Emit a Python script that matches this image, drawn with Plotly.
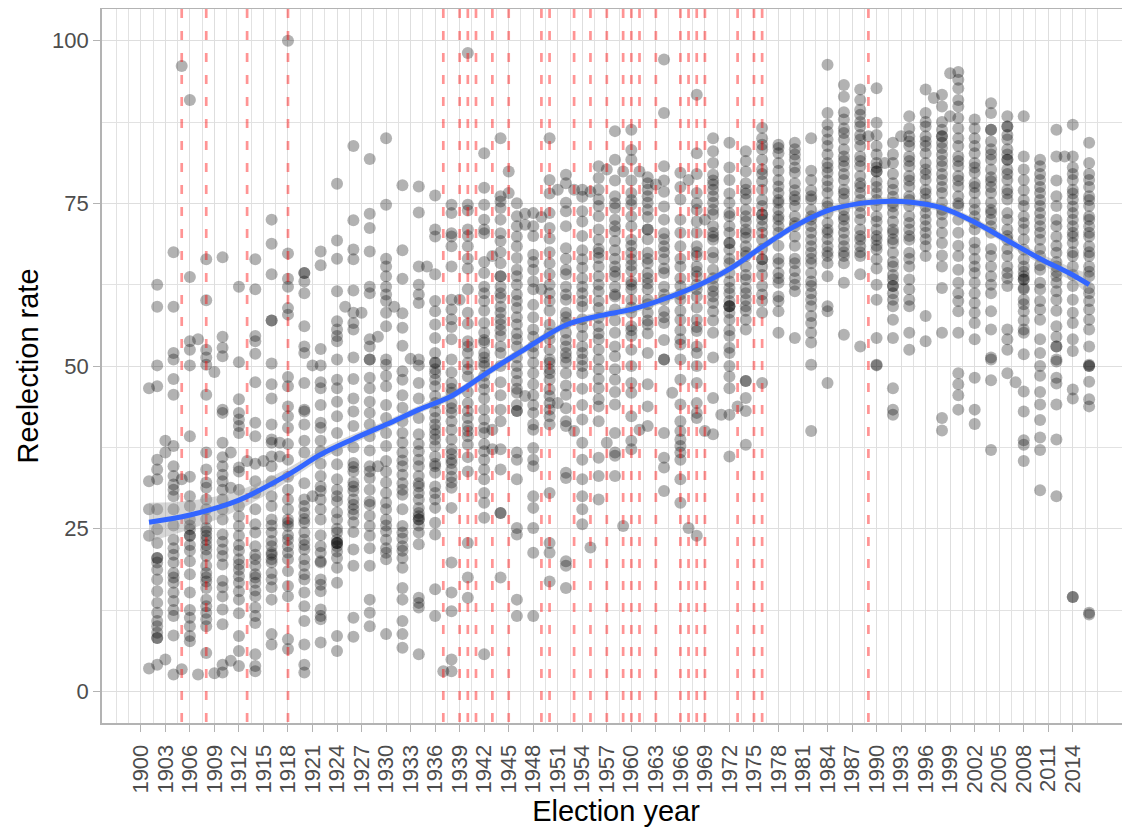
import plotly.graph_objects as go
import numpy as np

# election years and the reelection rates seen in each year's column
col_years = [1901, 1902, 1903, 1904, 1905, 1906, 1907, 1908, 1909, 1910, 1911, 1912, 1913, 1914,
             1915, 1916, 1917, 1918, 1920, 1921, 1922, 1924, 1925, 1926, 1927, 1928, 1929, 1930,
             1931, 1932, 1933, 1934, 1935, 1936, 1937, 1938, 1939, 1940, 1942, 1943, 1944, 1945,
             1946, 1947, 1948, 1949, 1950, 1951, 1952, 1953, 1954, 1955, 1956, 1957, 1958, 1959,
             1960, 1961, 1962, 1963, 1964, 1965, 1966, 1967, 1968, 1969, 1970, 1971, 1972, 1973,
             1974, 1976, 1978, 1980, 1982, 1984, 1986, 1988, 1989, 1990, 1991, 1992, 1993, 1994,
             1996, 1997, 1998, 1999, 2000, 2002, 2004, 2006, 2007, 2008, 2010, 2012, 2013, 2014,
             2016]

col_rates = [
    [46.6, 32.3, 28.0, 23.9, 3.5],
    [62.5, 59.1, 50.1, 46.9, 35.6, 34.1, 32.6, 28.0, 24.9, 22.8, 20.5, 20.5, 19.8, 18.7, 17.2,
     15.4, 13.6, 12.1, 10.8, 10.0, 9.0, 8.2, 8.2, 4.1],
    [38.5, 36.7, 4.9],
    [67.5, 59.1, 52.0, 51.0, 48.0, 45.6, 37.7, 34.6, 33.1, 31.8, 31.0, 30.0, 23.3, 21.0, 19.8,
     18.2, 16.7, 15.2, 13.9, 11.6, 8.6, 2.6, 28.0, 25.5, 22.0, 17.5, 12.5],
    [96.1, 32.6, 3.4],
    [90.9, 63.7, 53.8, 52.5, 50.1, 39.2, 30.0, 28.5, 26.4, 24.9, 23.9, 23.9, 21.6, 20.0, 15.2,
     11.3, 10.0, 8.5, 7.7, 33.0, 25.5, 22.5, 18.0, 12.5],
    [54.1, 2.6],
    [66.4, 60.1, 52.5, 51.3, 50.2, 45.6, 36.7, 34.1, 32.1, 31.3, 28.0, 25.1, 24.6, 23.9, 23.3,
     21.8, 20.8, 19.3, 18.2, 16.9, 15.9, 14.1, 13.1, 12.1, 11.1, 10.0, 5.9, 29.5, 26.5, 22.5,
     17.5],
    [49.1, 2.8],
    [66.7, 54.5, 52.8, 51.5, 43.3, 42.8, 38.2, 34.6, 33.3, 32.3, 31.0, 29.5, 26.4, 24.1, 21.8,
     20.8, 19.5, 14.6, 12.6, 10.3, 4.1, 2.9, 36.0, 28.0, 23.0, 17.0, 16.0],
    [36.7, 31.3, 4.7],
    [62.2, 50.6, 44.9, 42.8, 41.8, 40.8, 39.7, 34.4, 33.8, 26.9, 25.4, 23.9, 21.6, 20.3, 18.7,
     17.7, 16.7, 15.4, 14.1, 8.5, 6.2, 3.9, 31.0, 28.5, 22.5, 19.5, 12.0],
    [35.4],
    [66.4, 61.8, 54.6, 53.8, 51.9, 47.5, 41.3, 39.2, 32.3, 30.5, 25.7, 24.4, 22.3, 20.3, 19.3,
     18.0, 16.7, 14.6, 12.9, 11.6, 10.5, 5.7, 3.9, 3.1, 35.0, 28.0, 21.0, 17.5, 15.5],
    [35.4],
    [72.5, 68.8, 64.1, 57.0, 57.0, 50.4, 47.2, 38.7, 38.2, 36.1, 34.6, 32.3, 28.5, 26.4, 24.4,
     23.1, 22.3, 21.3, 20.3, 19.8, 18.2, 17.2, 14.1, 8.8, 7.2, 45.0, 41.0, 30.0, 25.5, 21.0,
     16.0],
    [38.2, 36.1],
    [100.0, 67.3, 63.4, 62.2, 58.9, 57.9, 48.3, 46.9, 43.8, 42.3, 40.5, 35.6, 31.0, 29.5, 26.4,
     25.9, 25.4, 23.3, 22.3, 21.3, 20.3, 16.2, 14.6, 8.0, 6.5, 38.0, 33.0, 28.0, 24.0, 18.5],
    [64.3, 64.3, 63.0, 61.2, 56.1, 53.0, 52.0, 47.4, 43.3, 43.0, 36.7, 29.5, 28.5, 27.4, 25.9,
     24.4, 23.3, 21.8, 20.3, 19.3, 18.0, 17.2, 15.2, 13.1, 10.8, 7.2, 4.1, 2.9, 41.0, 38.5,
     32.0, 26.5, 22.5],
    [50.1, 30.0],
    [67.6, 65.5, 52.6, 50.1, 47.5, 46.6, 41.3, 40.5, 36.9, 33.1, 31.5, 30.8, 28.0, 26.4, 22.3,
     21.3, 19.8, 17.2, 16.4, 15.4, 12.6, 11.6, 11.1, 7.5, 44.0, 38.5, 35.0, 29.5, 24.0, 20.0],
    [78.0, 69.3, 66.5, 61.5, 56.9, 55.6, 54.6, 53.8, 51.0, 47.9, 46.6, 42.3, 39.7, 34.9, 32.6,
     30.0, 29.2, 26.4, 24.4, 23.3, 22.8, 22.8, 22.8, 22.3, 20.5, 19.0, 16.7, 8.5, 6.2, 44.5,
     37.0, 31.0, 27.5, 25.0, 21.5],
    [59.1],
    [83.8, 72.4, 67.9, 66.4, 61.6, 58.2, 56.6, 55.6, 51.3, 48.0, 40.8, 35.1, 33.8, 32.1, 30.8,
     29.5, 28.7, 28.0, 27.2, 21.8, 19.3, 11.3, 8.4, 45.0, 43.0, 37.5, 34.5, 31.5, 26.0, 24.5],
    [58.2],
    [81.8, 73.4, 71.2, 67.6, 62.2, 61.2, 54.1, 53.0, 51.0, 51.0, 48.2, 46.6, 42.8, 39.2, 34.6,
     33.8, 32.8, 29.2, 28.7, 25.4, 23.9, 19.3, 14.1, 12.1, 10.0, 44.5, 41.0, 37.0, 31.0, 27.0,
     22.0],
    [54.5, 34.6],
    [85.0, 74.8, 66.5, 65.3, 63.8, 62.2, 61.0, 60.0, 58.2, 56.1, 51.0, 50.2, 46.9, 39.7, 37.7,
     35.4, 33.8, 32.1, 28.0, 26.4, 24.6, 23.3, 21.3, 20.3, 8.8, 48.5, 44.0, 42.0, 30.5, 29.0,
     25.5, 22.0],
    [59.1],
    [77.8, 67.8, 63.4, 58.1, 55.9, 53.1, 49.2, 47.9, 43.6, 39.7, 38.2, 36.7, 34.6, 33.3, 31.0,
     30.2, 25.4, 24.4, 22.3, 21.6, 19.0, 15.9, 14.1, 10.8, 8.8, 6.7, 45.5, 41.5, 35.5, 32.0,
     28.0, 23.5, 20.5],
    [51.1],
    [77.6, 73.6, 65.3, 62.5, 61.0, 59.7, 51.0, 50.1, 47.4, 36.9, 35.6, 34.6, 33.1, 31.5, 29.5,
     28.2, 27.4, 26.9, 26.4, 26.4, 24.4, 22.6, 14.4, 13.6, 12.9, 5.7, 45.0, 42.0, 39.5, 38.0,
     32.0, 30.5, 25.5],
    [65.3],
    [76.2, 71.0, 69.9, 64.1, 60.0, 58.4, 56.4, 54.3, 50.5, 50.5, 48.9, 47.9, 46.9, 45.4, 44.3,
     42.0, 40.2, 38.7, 37.7, 36.1, 34.6, 33.6, 30.5, 29.5, 28.2, 25.9, 24.1, 15.7, 11.6, 52.0,
     49.5, 43.0, 41.0, 39.5, 35.0, 31.5],
    [3.1],
    [74.8, 73.5, 70.4, 69.9, 68.4, 65.3, 60.2, 58.7, 57.2, 54.1, 51.0, 47.4, 45.9, 44.3, 42.8,
     40.2, 38.7, 37.2, 35.6, 35.1, 34.1, 32.1, 31.3, 28.2, 19.8, 15.2, 12.3, 4.9, 3.1, 56.0,
     49.0, 46.5, 43.5, 41.5, 36.5, 33.0],
    [60.2],
    [98.1, 74.8, 73.9, 71.0, 68.4, 65.0, 61.8, 58.2, 53.8, 53.0, 52.0, 49.5, 48.4, 44.3, 43.1,
     40.8, 40.0, 39.2, 37.9, 33.8, 22.8, 17.5, 14.4, 70.0, 66.5, 56.5, 50.5, 46.0, 42.0, 36.0],
    [82.7, 77.4, 74.8, 71.0, 70.4, 64.3, 62.2, 61.2, 60.0, 56.6, 55.1, 53.6, 52.0, 51.3, 50.5,
     50.0, 47.4, 46.4, 43.3, 41.8, 39.7, 36.9, 35.6, 34.1, 32.6, 30.5, 29.0, 26.7, 5.7, 72.5,
     66.0, 58.5, 54.0, 48.5, 45.0, 40.5, 38.0],
    [66.9, 40.2, 37.2],
    [85.0, 76.1, 75.3, 74.3, 70.4, 69.2, 65.8, 63.8, 63.8, 62.2, 61.2, 59.1, 58.2, 57.2, 56.4,
     54.6, 52.0, 43.3, 41.5, 37.2, 34.1, 27.4, 27.4, 17.5, 72.5, 67.5, 60.5, 55.5, 53.0, 50.0,
     47.5, 45.5],
    [79.9, 76.6],
    [75.0, 69.9, 68.4, 66.6, 64.8, 63.8, 61.0, 58.9, 56.4, 54.1, 53.0, 51.3, 48.9, 47.7, 45.9,
     43.1, 43.1, 36.7, 35.6, 32.6, 25.1, 24.1, 14.1, 11.6, 73.0, 71.5, 62.5, 60.0, 57.5, 55.0,
     50.0, 46.5, 44.0],
    [73.4, 71.7, 45.4],
    [73.5, 71.5, 67.1, 64.8, 61.8, 59.4, 55.6, 53.0, 52.0, 48.9, 47.2, 42.8, 41.0, 40.2, 37.4,
     35.6, 34.6, 30.0, 28.2, 25.1, 21.3, 11.6, 70.0, 66.0, 63.0, 57.5, 54.5, 50.5, 45.5, 44.0],
    [72.9, 61.8],
    [85.0, 78.6, 73.5, 71.2, 69.6, 65.8, 64.1, 61.2, 60.0, 56.4, 54.1, 51.0, 50.5, 48.9, 47.9,
     46.4, 45.4, 44.3, 43.3, 42.3, 41.0, 30.5, 22.8, 21.3, 16.9, 76.5, 67.5, 62.5, 58.5, 55.0,
     52.5, 49.5],
    [77.1, 44.3],
    [79.4, 78.1, 75.1, 73.8, 68.1, 64.8, 64.1, 62.2, 60.2, 58.2, 56.6, 55.1, 53.0, 51.3, 50.5,
     48.9, 45.6, 41.5, 40.8, 33.6, 32.8, 20.0, 19.3, 15.9, 71.5, 66.5, 61.0, 57.5, 54.0, 52.0,
     47.0, 43.5],
    [77.1, 40.0],
    [77.1, 73.8, 72.2, 67.8, 66.4, 65.1, 62.2, 61.2, 59.1, 57.2, 54.6, 53.0, 51.0, 48.9, 41.8,
     38.2, 35.6, 32.6, 30.0, 28.0, 25.7, 76.0, 70.0, 63.5, 60.0, 56.0, 52.0, 50.0, 46.5, 44.0],
    [76.8, 22.1],
    [80.7, 78.9, 77.1, 75.6, 74.6, 73.0, 69.4, 67.4, 66.6, 65.3, 63.8, 61.5, 58.9, 57.4, 56.1,
     54.1, 51.0, 49.5, 46.6, 44.9, 43.8, 41.5, 35.9, 33.1, 29.5, 71.0, 68.0, 62.5, 60.0, 55.0,
     52.5, 48.0],
    [80.2, 38.2],
    [86.1, 81.7, 76.1, 74.3, 72.5, 70.7, 69.2, 67.8, 65.3, 63.8, 62.2, 60.7, 58.7, 55.1, 53.0,
     49.5, 47.9, 44.1, 39.7, 36.7, 36.2, 33.1, 78.5, 75.0, 71.5, 66.5, 64.5, 61.0, 57.0, 51.5,
     46.0],
    [79.9, 25.4],
    [86.3, 83.2, 81.7, 76.6, 74.8, 73.0, 69.4, 67.4, 66.4, 64.6, 63.0, 61.8, 60.2, 58.2, 56.1,
     54.6, 52.5, 47.4, 45.9, 42.3, 38.5, 37.2, 78.5, 75.5, 71.5, 68.5, 65.5, 62.5, 59.0, 55.5,
     50.0],
    [79.9, 40.2],
    [79.0, 78.1, 77.1, 76.1, 75.1, 72.9, 71.0, 71.0, 67.4, 65.8, 64.3, 62.7, 61.8, 60.2, 58.2,
     56.4, 47.2, 43.8, 40.8, 74.0, 69.5, 66.5, 63.5, 59.5, 57.0, 55.0, 52.0],
    [77.9],
    [97.1, 88.9, 80.7, 76.8, 72.5, 70.4, 68.4, 66.4, 64.3, 62.2, 60.2, 58.4, 56.6, 51.0, 51.0,
     39.7, 35.9, 34.4, 30.8, 78.5, 74.5, 69.5, 67.5, 65.0, 61.0, 57.5, 54.0],
    [45.9],
    [79.7, 75.6, 70.5, 68.4, 65.3, 62.3, 60.2, 57.1, 54.1, 53.3, 47.9, 44.1, 41.5, 40.0, 38.7,
     37.7, 36.7, 35.6, 32.6, 29.0, 77.5, 72.5, 66.5, 63.5, 61.0, 58.5, 55.5, 51.0],
    [78.6, 25.1],
    [91.7, 82.7, 76.6, 74.0, 72.2, 68.4, 66.9, 65.3, 63.8, 61.8, 60.7, 57.1, 55.4, 53.0, 52.0,
     50.0, 47.4, 44.3, 42.8, 42.0, 23.9, 79.5, 75.0, 70.5, 67.5, 64.5, 62.5, 59.0, 56.0],
    [72.5, 40.0],
    [85.0, 81.2, 79.4, 77.9, 77.1, 76.1, 75.1, 73.3, 71.5, 69.9, 69.4, 66.6, 64.8, 62.3, 60.7,
     59.7, 58.4, 55.1, 51.3, 45.1, 39.5, 83.0, 78.5, 74.0, 70.5, 67.5, 63.5, 61.5, 57.0],
    [42.5],
    [84.3, 78.6, 75.1, 73.5, 73.0, 70.5, 68.9, 68.9, 67.9, 65.8, 64.3, 63.0, 61.2, 59.2, 59.2,
     59.2, 58.2, 57.1, 54.6, 52.8, 52.0, 50.0, 48.4, 46.6, 42.5, 36.1, 80.5, 76.5, 71.5, 66.5,
     62.0, 60.0, 55.5],
    [43.8],
    [83.0, 79.9, 78.1, 77.1, 75.6, 74.0, 72.2, 70.5, 69.7, 68.4, 66.9, 65.3, 63.3, 61.2, 60.2,
     59.2, 57.1, 55.6, 47.7, 47.7, 45.1, 43.1, 37.9, 81.5, 76.5, 73.0, 71.0, 67.5, 64.0, 62.0,
     58.5],
    [86.6, 85.0, 83.3, 81.7, 80.2, 78.4, 77.1, 74.6, 73.3, 73.3, 71.5, 69.4, 66.4, 66.4, 65.3,
     62.3, 60.0, 58.2, 47.4, 84.0, 79.5, 75.5, 72.5, 70.5, 68.0, 64.0, 61.0],
    [84.0, 82.7, 81.2, 78.6, 77.6, 76.6, 75.1, 74.0, 72.5, 70.5, 65.8, 64.3, 62.8, 60.7, 60.0,
     58.4, 55.1, 83.5, 80.0, 75.5, 73.0, 71.5, 68.5, 66.5, 63.5],
    [84.3, 83.3, 81.7, 79.7, 78.1, 76.1, 74.6, 73.0, 71.5, 69.9, 65.8, 64.6, 63.5, 61.5, 54.3,
     82.5, 80.5, 77.0, 75.5, 72.0, 68.5, 66.5, 62.5],
    [85.0, 78.6, 76.1, 75.6, 74.0, 73.0, 71.5, 69.4, 68.4, 67.4, 65.8, 64.3, 62.3, 61.2, 60.2,
     59.2, 57.7, 56.6, 55.1, 53.6, 50.2, 40.0, 80.0, 77.0, 72.5, 70.5, 66.5, 63.0],
    [96.3, 88.9, 87.1, 84.8, 83.8, 81.2, 79.7, 77.6, 76.6, 75.1, 73.5, 72.0, 70.5, 68.4, 66.9,
     65.8, 63.8, 59.2, 58.4, 47.4, 86.0, 82.5, 80.5, 78.5, 74.5, 71.0, 69.5, 67.5],
    [93.2, 91.4, 87.9, 85.8, 84.8, 83.3, 82.2, 80.7, 78.6, 77.1, 75.6, 74.0, 72.5, 70.5, 69.4,
     68.4, 66.9, 65.8, 62.8, 54.8, 89.0, 86.5, 81.5, 79.5, 76.5, 73.0, 71.5, 67.5],
    [92.5, 90.9, 89.4, 88.6, 86.8, 84.8, 83.8, 82.2, 80.7, 79.2, 78.1, 76.6, 74.6, 72.5, 71.0,
     69.4, 68.4, 66.9, 64.1, 53.0, 87.5, 85.5, 81.5, 77.5, 75.5, 73.5, 70.0, 67.5],
    [85.3],
    [92.7, 87.4, 83.8, 81.2, 79.9, 79.9, 78.4, 76.6, 74.6, 73.0, 72.2, 71.0, 69.4, 67.9, 66.4,
     62.5, 60.2, 54.3, 50.2, 50.1, 85.5, 82.5, 80.5, 77.5, 75.5, 70.0, 68.5, 65.0],
    [81.2],
    [84.3, 81.2, 78.1, 77.1, 75.1, 73.5, 72.2, 70.5, 68.9, 67.4, 65.3, 63.3, 62.3, 62.3, 61.2,
     60.2, 59.2, 57.1, 54.3, 46.6, 43.3, 42.5, 82.5, 79.5, 76.0, 74.5, 71.0, 69.5, 66.0, 64.0],
    [85.3],
    [88.4, 85.3, 83.8, 82.2, 80.7, 79.2, 77.6, 76.1, 74.6, 73.0, 71.0, 69.4, 67.4, 65.3, 63.3,
     61.8, 60.2, 59.2, 55.1, 52.5, 86.5, 84.5, 81.5, 78.5, 75.5, 72.0, 70.0, 66.5],
    [92.5, 88.9, 86.8, 85.3, 83.8, 82.7, 81.2, 80.2, 78.6, 77.1, 75.6, 73.5, 71.5, 70.5, 68.4,
     66.9, 57.7, 53.8, 87.5, 84.5, 79.5, 76.5, 74.5, 72.5, 69.5],
    [91.2],
    [91.7, 89.9, 86.3, 85.3, 85.3, 84.3, 82.5, 80.7, 78.6, 76.6, 75.1, 73.3, 70.5, 68.9, 65.3,
     62.0, 55.1, 42.0, 40.1, 87.5, 83.5, 81.5, 79.5, 77.5, 74.0, 72.0, 67.0],
    [95.0, 88.4],
    [95.2, 94.0, 92.7, 90.9, 89.9, 88.1, 83.8, 82.2, 80.7, 79.2, 77.6, 76.1, 74.6, 70.5, 66.9,
     64.8, 62.8, 61.2, 60.0, 58.4, 55.1, 48.9, 47.2, 45.5, 43.3, 86.5, 85.0, 81.5, 78.5, 75.0,
     72.5, 68.5],
    [87.9, 83.8, 82.7, 81.2, 79.7, 78.1, 76.6, 75.1, 73.0, 71.0, 67.9, 65.3, 64.3, 62.8, 61.2,
     59.7, 58.2, 56.6, 54.1, 48.2, 43.3, 41.1, 86.5, 85.0, 80.5, 77.5, 74.0, 72.0, 69.0, 66.5],
    [90.4, 88.9, 86.3, 86.3, 83.3, 81.7, 80.2, 78.4, 76.6, 75.1, 73.5, 71.5, 70.5, 66.9, 65.3,
     63.8, 61.2, 58.4, 55.6, 51.3, 51.0, 47.8, 37.1, 84.5, 82.5, 79.0, 77.5, 74.0, 72.5, 68.0,
     62.5],
    [88.4, 86.8, 86.8, 84.8, 83.3, 81.7, 81.7, 80.2, 78.6, 77.1, 75.6, 73.5, 71.0, 69.4, 66.9,
     65.3, 64.3, 62.3, 55.6, 54.1, 52.5, 48.9, 85.5, 82.5, 79.5, 76.5, 72.5, 70.0, 68.0, 63.5],
    [47.5],
    [88.4, 82.2, 80.2, 78.6, 74.6, 73.0, 71.0, 67.9, 66.4, 65.3, 63.8, 63.3, 63.3, 61.8, 60.2,
     58.4, 55.6, 55.1, 51.8, 46.1, 43.0, 38.6, 37.9, 35.4, 77.0, 75.5, 72.0, 69.5, 64.5, 62.0,
     59.5, 57.0],
    [81.7, 80.7, 78.6, 76.6, 74.6, 73.5, 71.5, 69.4, 66.9, 64.8, 62.8, 61.8, 58.7, 57.1, 54.1,
     52.0, 50.0, 48.5, 46.0, 44.1, 41.7, 39.0, 37.1, 30.9, 79.5, 77.5, 75.5, 72.5, 70.5, 68.0,
     65.5, 60.0],
    [86.3, 82.2, 76.1, 74.6, 71.5, 69.9, 67.4, 65.3, 63.8, 62.8, 60.2, 56.1, 53.0, 53.0, 51.0,
     50.7, 48.2, 47.3, 44.1, 38.7, 30.0, 78.5, 72.5, 68.5, 66.0, 64.5, 61.5, 58.5, 54.5],
    [82.2],
    [87.1, 82.2, 78.6, 77.1, 75.6, 73.5, 71.5, 69.9, 68.9, 66.9, 65.3, 62.3, 60.2, 58.2, 56.6,
     54.1, 52.3, 46.4, 45.0, 14.5, 14.5, 80.5, 79.5, 76.5, 74.5, 72.5, 70.5, 67.5, 64.0],
    [84.3, 81.2, 78.6, 76.1, 74.6, 73.0, 71.5, 69.9, 68.4, 66.9, 65.3, 63.8, 61.2, 58.7, 57.1,
     55.6, 53.0, 50.2, 50.0, 50.0, 47.6, 44.9, 43.8, 12.1, 11.8, 79.5, 77.5, 75.5, 72.5, 70.5,
     67.5, 64.5, 62.0, 60.0],
]

# years marked with a red dashed line
vline_years = [1905, 1908, 1913, 1918, 1937, 1939, 1940, 1941, 1943, 1945, 1949, 1950, 1953,
               1955, 1957, 1959, 1960, 1961, 1963, 1966, 1967, 1968, 1969, 1973, 1975, 1976, 1989]

# loess fit, with half width of the grey band
smooth_years = [1901, 1906, 1912, 1918, 1922, 1926, 1930, 1934, 1938, 1943, 1947, 1952, 1956,
                1960, 1964, 1968, 1972, 1976, 1980, 1984, 1988, 1991, 1994, 1998, 2002, 2006,
                2010, 2014, 2016]
smooth_rate = [26.0, 27.1, 29.4, 33.3, 36.4, 38.8, 41.0, 43.3, 45.4, 49.5, 52.6, 56.3, 57.7,
               58.7, 60.3, 62.3, 64.9, 68.3, 71.5, 73.9, 75.0, 75.3, 75.2, 74.3, 72.1, 69.3,
               66.5, 64.0, 62.5]
smooth_half = [3.0, 2.2, 1.5, 1.0, 0.8, 0.7, 0.6, 0.6, 0.6, 0.6, 0.6, 0.6, 0.6,
               0.6, 0.6, 0.6, 0.6, 0.6, 0.6, 0.6, 0.6, 0.6, 0.6, 0.6, 0.6, 0.65,
               0.8, 1.05, 1.3]

x_tick_vals = list(range(1900, 2015, 3))
y_tick_vals = [0, 25, 50, 75, 100]

X_RANGE = [1895.25, 2021.0]
Y_RANGE = [-4.86, 104.87]

pts_x, pts_y = [], []
for yr, rates in zip(col_years, col_rates):
    pts_x += [yr] * len(rates)
    pts_y += rates

fig = go.Figure()

fig.add_trace(go.Scatter(
    x=pts_x, y=pts_y, mode="markers",
    marker=dict(size=12, color="rgba(0,0,0,0.3)", line=dict(width=0)),
    hoverinfo="skip"))

vx, vy = [], []
for yr in vline_years:
    vx += [yr, yr, None]
    vy += [Y_RANGE[1], Y_RANGE[0], None]
fig.add_trace(go.Scatter(
    x=vx, y=vy, mode="lines",
    line=dict(color="rgba(255,0,0,0.42)", width=2.7, dash="9px,13px"),
    hoverinfo="skip"))

upper = [r + h for r, h in zip(smooth_rate, smooth_half)]
lower = [r - h for r, h in zip(smooth_rate, smooth_half)]
fig.add_trace(go.Scatter(
    x=smooth_years + smooth_years[::-1], y=upper + lower[::-1],
    fill="toself", fillcolor="rgba(153,153,153,0.4)", mode="lines",
    line=dict(width=0, shape="spline"), hoverinfo="skip"))
fig.add_trace(go.Scatter(
    x=smooth_years, y=smooth_rate, mode="lines",
    line=dict(color="#3366FF", width=5, shape="spline"), hoverinfo="skip"))

x_minor = [v for v in np.arange(1897, 2017.1, 1.5) if v not in x_tick_vals]

# the page adds an 8px body margin, so the figure is 8px smaller than the window
fig.update_layout(
    width=1122, height=819,
    margin=dict(l=94, r=0, t=1, b=104),
    plot_bgcolor="white", paper_bgcolor="white",
    showlegend=False,
    font=dict(family="Liberation Sans, Arial, sans-serif"),
)
fig.update_xaxes(
    automargin=False,
    range=X_RANGE, tickmode="array", tickvals=x_tick_vals, tickangle=-90,
    ticks="outside", ticklen=7, tickwidth=1.4, tickcolor="#B3B3B3",
    tickfont=dict(size=22, color="#4D4D4D"), ticklabelstandoff=4,
    showgrid=True, gridcolor="#DEDEDE", gridwidth=1.3,
    minor=dict(tickmode="array", tickvals=x_minor, showgrid=True,
               gridcolor="#E2E2E2", gridwidth=1, ticks=""),
    showline=True, linecolor="#B3B3B3", linewidth=1.7, mirror=True, zeroline=False,
    title=dict(text="Election year", font=dict(size=29, color="black"), standoff=11),
)
fig.update_yaxes(
    automargin=False,
    range=Y_RANGE, tickmode="array", tickvals=y_tick_vals,
    ticks="outside", ticklen=7, tickwidth=1.4, tickcolor="#B3B3B3",
    tickfont=dict(size=22, color="#4D4D4D"),
    showgrid=True, gridcolor="#DEDEDE", gridwidth=1.3,
    minor=dict(tickmode="array", tickvals=[12.5, 37.5, 62.5, 87.5], showgrid=True,
               gridcolor="#E2E2E2", gridwidth=1, ticks=""),
    showline=True, linecolor="#B3B3B3", linewidth=1.7, zeroline=False,
    title=dict(text="Reelection rate", font=dict(size=29, color="black"), standoff=5),
)

fig.write_html("out.html")
